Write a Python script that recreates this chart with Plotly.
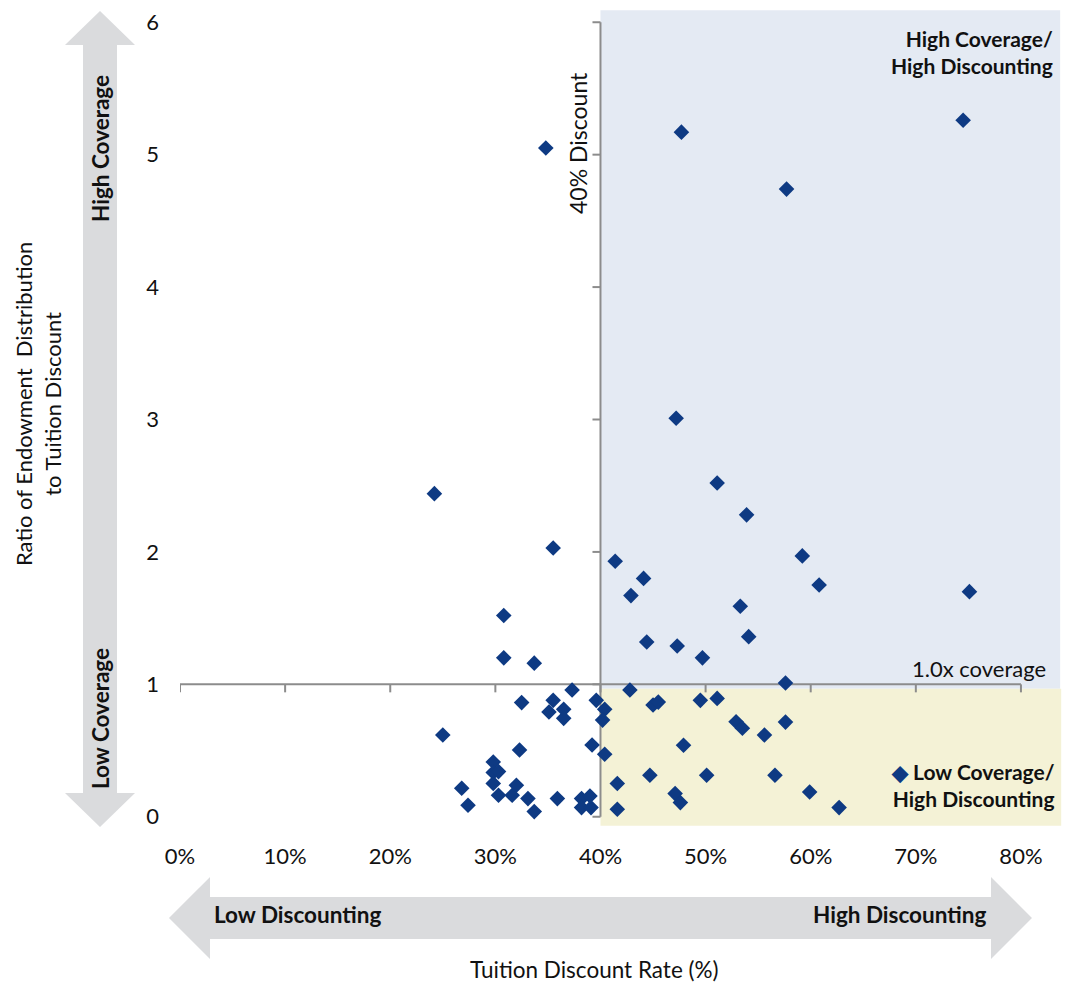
import plotly.graph_objects as go

# ---------------- data ----------------
discount_rate = [
    0.348, 0.477, 0.745, 0.577, 0.472, 0.242, 0.511, 0.539, 0.355, 0.414,
    0.592, 0.441, 0.608, 0.751, 0.429, 0.308, 0.533, 0.541, 0.444, 0.473,
    0.308, 0.497, 0.337,
    0.576, 0.373, 0.428, 0.325, 0.355, 0.351, 0.365, 0.365, 0.396, 0.404,
    0.402, 0.450, 0.455, 0.495, 0.511, 0.529, 0.535, 0.556, 0.576, 0.250,
    0.323, 0.392, 0.404, 0.479, 0.298, 0.298, 0.303, 0.298, 0.303, 0.316,
    0.320, 0.268, 0.274, 0.331, 0.337, 0.359, 0.382, 0.390, 0.382, 0.391,
    0.416, 0.416, 0.447, 0.501, 0.566, 0.471, 0.476, 0.599, 0.627,
]
coverage_ratio = [
    5.05, 5.17, 5.26, 4.74, 3.01, 2.44, 2.52, 2.28, 2.03, 1.93,
    1.97, 1.80, 1.75, 1.70, 1.67, 1.52, 1.59, 1.36, 1.32, 1.29,
    1.20, 1.20, 1.16,
    1.01, 0.957, 0.957, 0.862, 0.879, 0.791, 0.811, 0.743, 0.879, 0.811,
    0.730, 0.844, 0.866, 0.879, 0.894, 0.718, 0.668, 0.617, 0.715, 0.617,
    0.504, 0.542, 0.472, 0.540, 0.414, 0.334, 0.341, 0.252, 0.162, 0.162,
    0.238, 0.215, 0.087, 0.137, 0.039, 0.137, 0.137, 0.157, 0.069, 0.069,
    0.251, 0.057, 0.313, 0.313, 0.313, 0.175, 0.107, 0.187, 0.069,
]
x_ticks = [0.0, 0.1, 0.2, 0.3, 0.4, 0.5, 0.6, 0.7, 0.8]
x_ticklabels = ["0%", "10%", "20%", "30%", "40%", "50%", "60%", "70%", "80%"]
y_ticks = [0, 1, 2, 3, 4, 5, 6]
discount_threshold = 0.40
coverage_threshold = 1.0

# ---------------- styling ----------------
W, H = 1068, 984
ML, MR, MT, MB = 180, 5, 9, 154
FONT = "Lato"
MARKER = "#0e3a83"
AXIS = "#8c8c8c"
ARROW = "#dadbdd"
BLUE_BG = "#e4eaf3"
YELLOW_BG = "#f4f2d6"
TXT = "#111111"


def pxx(xp):
    return (xp - ML) / (W - ML - MR)


def pxy(yp):
    return (H - MB - yp) / (H - MT - MB)


def path(points):
    s = "M " + " L ".join(f"{pxx(a):.5f},{pxy(b):.5f}" for a, b in points) + " Z"
    return s


fig = go.Figure()
fig.add_trace(go.Scatter(
    x=discount_rate, y=coverage_ratio, mode="markers",
    marker=dict(symbol="diamond", size=12, color=MARKER, line=dict(width=0)),
    showlegend=False, hoverinfo="x+y", cliponaxis=False,
))

shapes = []
# quadrant shading
shapes.append(dict(type="rect", xref="x", yref="y", x0=discount_threshold, x1=0.8373,
                   y0=0.966, y1=6.09, fillcolor=BLUE_BG, line=dict(width=0), layer="below"))
shapes.append(dict(type="rect", xref="x", yref="y", x0=discount_threshold, x1=0.8383,
                   y0=-0.068, y1=0.966, fillcolor=YELLOW_BG, line=dict(width=0), layer="below"))
# crossing axis lines
shapes.append(dict(type="line", xref="x", yref="y", x0=discount_threshold, x1=discount_threshold,
                   y0=y_ticks[0], y1=y_ticks[-1], line=dict(color=AXIS, width=2), layer="below"))
shapes.append(dict(type="line", xref="x", yref="y", x0=x_ticks[0], x1=x_ticks[-1],
                   y0=coverage_threshold, y1=coverage_threshold, line=dict(color=AXIS, width=2), layer="below"))
for t in y_ticks:
    shapes.append(dict(type="line", xref="x", yref="y", xsizemode="pixel", xanchor=discount_threshold,
                       x0=-8, x1=0, y0=t, y1=t, line=dict(color=AXIS, width=2), layer="below"))
for t in x_ticks:
    shapes.append(dict(type="line", xref="x", yref="y", ysizemode="pixel", yanchor=coverage_threshold,
                       y0=0, y1=-8, x0=t, x1=t, line=dict(color=AXIS, width=2), layer="below"))
# gray arrows
shapes.append(dict(type="path", xref="paper", yref="paper", layer="below",
                   fillcolor=ARROW, line=dict(width=0),
                   path=path([(100, 11), (135, 45), (117, 45), (117, 793), (135, 793), (100, 827),
                              (65, 793), (83, 793), (83, 45), (65, 45)])))
shapes.append(dict(type="path", xref="paper", yref="paper", layer="below",
                   fillcolor=ARROW, line=dict(width=0),
                   path=path([(169, 918), (210, 877), (210, 897), (991, 897), (991, 877), (1032, 918),
                              (991, 959), (991, 939), (210, 939), (210, 959)])))


def ann(text, xp, yp, size=21, bold=False, angle=0, xanchor="center", align="center", color=TXT):
    return dict(text=f"<b>{text}</b>" if bold else text, x=pxx(xp), y=pxy(yp), xref="paper", yref="paper",
                showarrow=False, textangle=angle, xanchor=xanchor, yanchor="middle", align=align,
                font=dict(family=FONT, size=size, color=color))


annotations = [
    ann("Ratio of Endowment\u00a0\u00a0Distribution<br>to Tuition Discount", 38, 404, size=22, angle=-90),
    ann("Tuition Discount Rate (%)", 594, 969, size=22.5),
    ann("High Coverage", 100, 149, size=22.5, bold=True, angle=-90),
    ann("Low Coverage", 100, 719, size=22.5, bold=True, angle=-90),
    ann("Low Discounting", 212, 915, size=22.5, bold=True, xanchor="left"),
    ann("High Discounting", 988, 915, size=22.5, bold=True, xanchor="right"),
    ann("40% Discount", 578, 143, size=23, angle=-90),
    ann("1.0x coverage", 1048, 668, size=22, xanchor="right"),
    ann("High Coverage/<br>High Discounting", 1055, 52, bold=True, xanchor="right", align="right"),
    ann(f"<span style='color:{MARKER}'>◆</span> Low Coverage/<br>High Discounting", 1057, 785,
        bold=True, xanchor="right", align="right"),
]

fig.update_layout(
    width=W, height=H, margin=dict(l=ML, r=MR, t=MT, b=MB),
    paper_bgcolor="white", plot_bgcolor="white",
    shapes=shapes, annotations=annotations,
    font=dict(family=FONT, color=TXT),
    xaxis=dict(range=[0, 0.84], tickvals=x_ticks, ticktext=x_ticklabels, showgrid=False,
               zeroline=False, showline=False, ticks="", ticklabelstandoff=11,
               tickfont=dict(family=FONT, size=22, color=TXT)),
    yaxis=dict(range=[-0.1, 6.1], tickvals=y_ticks, showgrid=False, zeroline=False,
               showline=False, ticks="", ticklabelstandoff=20,
               tickfont=dict(family=FONT, size=22, color=TXT)),
)

fig.write_html("out.html", config={"displayModeBar": False},
               post_script="document.body.style.margin='0';document.body.style.overflow='hidden';")
